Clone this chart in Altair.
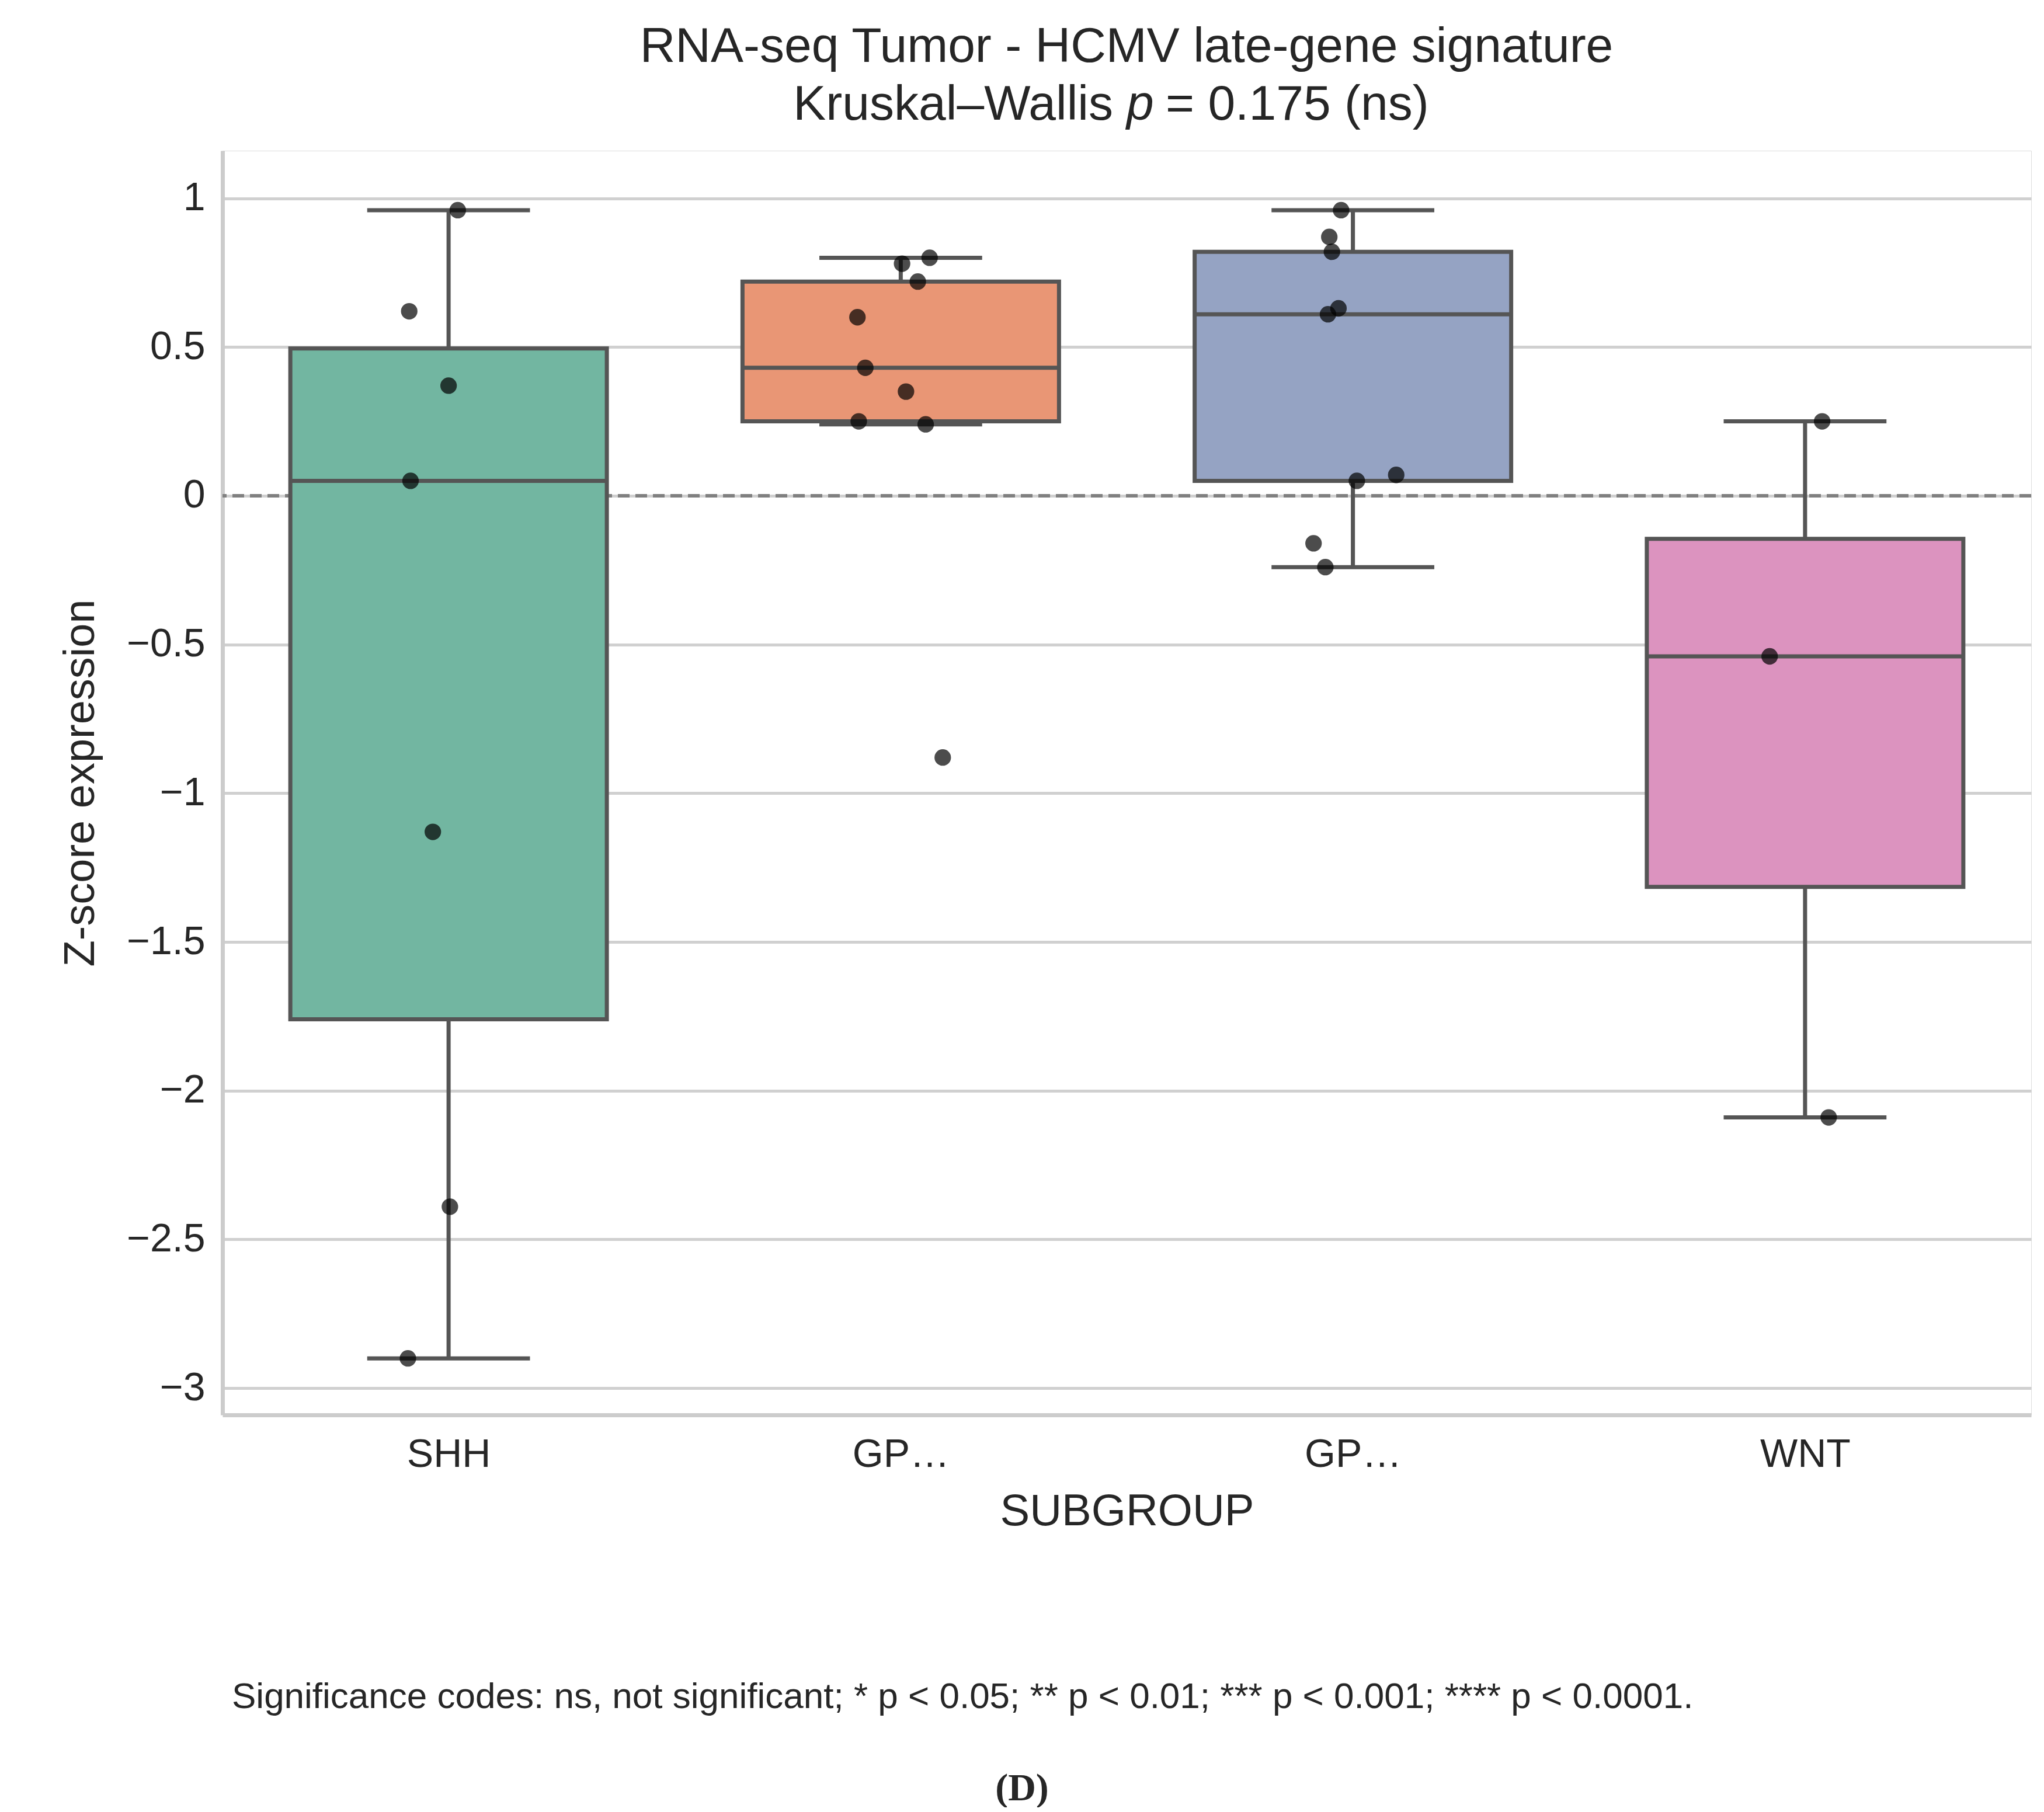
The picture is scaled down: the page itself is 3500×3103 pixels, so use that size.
import altair as alt
import pandas as pd
import numpy as np

groups = ["SHH", "GPR4", "GPR3", "WNT"]
colors = ["#72b6a1", "#e99675", "#95a3c3", "#dc93bf"]
values = {
    "SHH": [0.96, 0.62, 0.37, 0.05, -1.13, -2.39, -2.90],
    "GPR4": [0.80, 0.78, 0.72, 0.60, 0.43, 0.35, 0.25, 0.24, -0.88],
    "GPR3": [0.96, 0.87, 0.82, 0.63, 0.61, 0.07, 0.05, -0.16, -0.24],
    "WNT": [0.25, -0.54, -2.09],
}
jitter_px = {
    "SHH": [7, -30, 0, -29, -12, 1, -31],
    "GPR4": [22, 1, 13, -33, -27, 4, -32, 19, 32],
    "GPR3": [-9, -18, -16, -11, -19, 33, 3, -30, -21],
    "WNT": [13, -27, 18],
}

pts, boxes = [], []
for i, g in enumerate(groups):
    v = np.array(values[g])
    for val, j in zip(v, jitter_px[g]):
        pts.append({"x": i + j / 344.6, "y": val})
    q1, med, q3 = np.percentile(v, [25, 50, 75])
    iqr = q3 - q1
    inside = v[(v >= q1 - 1.5 * iqr) & (v <= q3 + 1.5 * iqr)]
    boxes.append({"g": g, "x": i - 0.35, "x2": i + 0.35, "cl": i - 0.18, "cr": i + 0.18, "c": i,
                  "q1": q1, "med": med, "q3": q3, "lo": inside.min(), "hi": inside.max()})
pdf = pd.DataFrame(pts)
bdf = pd.DataFrame(boxes)

W, H = 3097, 2165
xs = alt.Scale(domain=[-0.5, 3.5], nice=False, zero=False)
ys = alt.Scale(domain=[-3.09, 1.16], nice=False, zero=False)
EDGE = "#555555"
SW = 7

xax = alt.Axis(values=[0, 1, 2, 3], labelExpr="['SHH','GPR4','GPR3','WNT'][datum.value]",
               title="SUBGROUP", grid=False, ticks=False, labelFontSize=68, titleFontSize=76,
               labelColor="#262626", titleColor="#262626", labelPadding=34, titlePadding=26,
               domainColor="#cccccc", domainWidth=7, titleFontWeight="normal")
yax = alt.Axis(values=[1, 0.5, 0, -0.5, -1, -1.5, -2, -2.5, -3],
               labelExpr="replace(format(datum.value, ''), '-', '−')",
               title="Z-score expression", grid=True, gridColor="#d0d0d0", gridWidth=5,
               ticks=False, labelFontSize=68, titleFontSize=74, labelColor="#262626",
               titleColor="#262626", labelPadding=30, titlePadding=40,
               domainColor="#cccccc", domainWidth=7, titleFontWeight="normal")

base_b = alt.Chart(bdf)
whisk = base_b.mark_rule(color=EDGE, strokeWidth=SW).encode(
    x=alt.X("c:Q", scale=xs, axis=xax), y=alt.Y("lo:Q", scale=ys, axis=yax), y2="hi:Q")
caps_lo = base_b.mark_rule(color=EDGE, strokeWidth=SW).encode(
    x=alt.X("cl:Q", scale=xs), x2="cr:Q", y=alt.Y("lo:Q", scale=ys))
caps_hi = base_b.mark_rule(color=EDGE, strokeWidth=SW).encode(
    x=alt.X("cl:Q", scale=xs), x2="cr:Q", y=alt.Y("hi:Q", scale=ys))
box = base_b.mark_rect(stroke=EDGE, strokeWidth=SW).encode(
    x=alt.X("x:Q", scale=xs), x2="x2:Q", y=alt.Y("q1:Q", scale=ys), y2="q3:Q",
    color=alt.Color("g:N", scale=alt.Scale(domain=groups, range=colors), legend=None))
med = base_b.mark_rule(color=EDGE, strokeWidth=SW).encode(
    x=alt.X("x:Q", scale=xs), x2="x2:Q", y=alt.Y("med:Q", scale=ys))
zero = alt.Chart(pd.DataFrame({"z": [0]})).mark_rule(
    color="#808080", strokeWidth=6, strokeDash=[20, 10]).encode(y=alt.Y("z:Q", scale=ys))
dots = alt.Chart(pdf).mark_circle(size=800, color="black", opacity=0.7).encode(
    x=alt.X("x:Q", scale=xs), y=alt.Y("y:Q", scale=ys))

def txt(s, x, y, size, align="center", style="normal", font="Liberation Sans", weight="normal"):
    return alt.Chart(pd.DataFrame({"t": [s]})).mark_text(
        fontSize=size, align=align, baseline="middle", fontStyle=style, font=font,
        fontWeight=weight, color="#262626").encode(text="t:N", x=alt.value(x), y=alt.value(y))

ann = [
    txt("RNA-seq Tumor - HCMV late-gene signature", 1548, -177, 84),
    txt("Kruskal–Wallis", 1525, -78, 84, align="right"),
    txt("p", 1548, -78, 84, align="left", style="italic"),
    txt("= 0.175 (ns)", 1615, -78, 84, align="left"),
    txt("Significance codes: ns, not significant; * p < 0.05; ** p < 0.01; *** p < 0.001; **** p < 0.0001.",
        16, 2648, 62, align="left"),
    txt("(D)", 1369, 2805, 66, font="Liberation Serif", weight="bold"),
]

chart = alt.layer(zero, whisk, caps_lo, caps_hi, box, med, dots, *ann).properties(
    width=W, height=H,
    autosize=alt.AutoSizeParams(type="none"),
    padding={"left": 373, "top": 250, "right": 14, "bottom": 672},
).configure_view(stroke=None).configure(font="Liberation Sans", background="white")

chart.save("out.html", embed_options={"renderer": "svg", "actions": False})
